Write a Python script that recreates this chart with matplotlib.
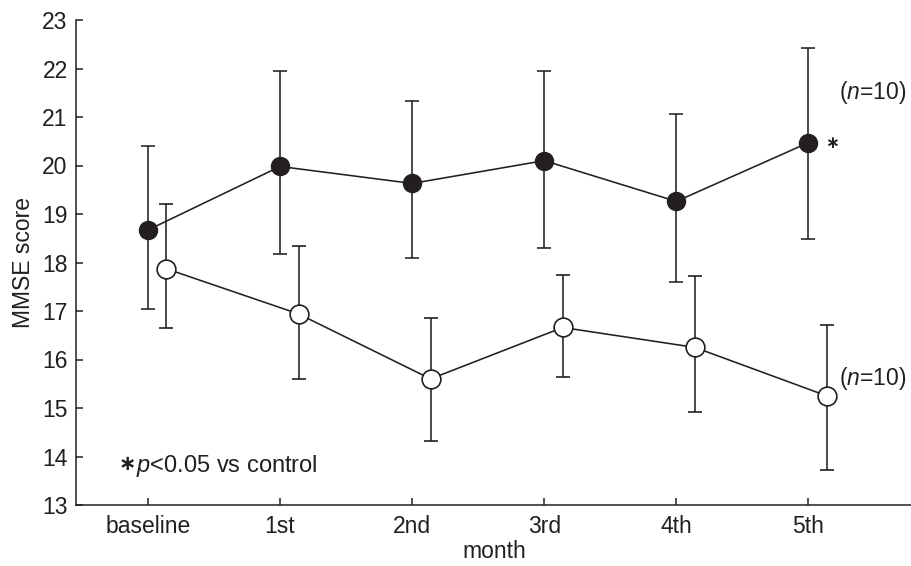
import numpy as np
import matplotlib
matplotlib.use('Agg')
import matplotlib.pyplot as plt

plt.rcParams['font.family'] = ['Liberation Sans', 'DejaVu Sans']
plt.rcParams['mathtext.fontset'] = 'custom'
plt.rcParams['mathtext.it'] = 'Liberation Sans:italic'
plt.rcParams['mathtext.rm'] = 'Liberation Sans'

months = ['baseline', '1st', '2nd', '3rd', '4th', '5th']

# treated group (filled circles)
treat_mean = [18.67, 19.98, 19.63, 20.10, 19.26, 20.47]
treat_upper = [20.41, 21.94, 21.33, 21.94, 21.07, 22.42]
treat_lower = [17.05, 18.18, 18.10, 18.30, 17.59, 18.49]

# control group (open circles)
ctrl_mean = [17.87, 16.94, 15.60, 16.66, 16.25, 15.25]
ctrl_upper = [19.21, 18.33, 16.86, 17.75, 17.72, 16.71]
ctrl_lower = [16.64, 15.59, 14.32, 15.64, 14.91, 13.72]

ink = '#231f20'

fig = plt.figure(figsize=(9.12, 5.66), dpi=100)
ax = fig.add_axes([76 / 912, 61 / 566, 836 / 912, 485 / 566])

x = np.arange(len(months))
shift = 0.14

t_err = [np.array(treat_mean) - np.array(treat_lower),
         np.array(treat_upper) - np.array(treat_mean)]
c_err = [np.array(ctrl_mean) - np.array(ctrl_lower),
         np.array(ctrl_upper) - np.array(ctrl_mean)]

ax.errorbar(x, treat_mean, yerr=t_err, fmt='-o', color=ink, lw=1.15,
            elinewidth=1.15, capsize=5, capthick=1.15, ms=13,
            mfc=ink, mec=ink, zorder=3)
ax.errorbar(x + shift, ctrl_mean, yerr=c_err, fmt='-o', color=ink, lw=1.15,
            elinewidth=1.15, capsize=5, capthick=1.15, ms=13.5,
            mfc='white', mec=ink, mew=1.2, zorder=3)

ax.set_xlim(-0.545, 5.785)
ax.set_ylim(13, 23)
ax.set_xticks(x)
ax.set_xticklabels(months)
ax.set_yticks(np.arange(13, 24, 1))

for s in ['top', 'right']:
    ax.spines[s].set_visible(False)
for s in ['left', 'bottom']:
    ax.spines[s].set_linewidth(1.1)
    ax.spines[s].set_color(ink)

ax.tick_params(axis='both', direction='in', length=5, width=1.1,
               colors=ink, labelsize=16.5)
ax.tick_params(axis='y', pad=6)
ax.tick_params(axis='x', pad=7)

ax.set_ylabel('MMSE score', fontsize=16.5, color=ink, labelpad=5)
ax.set_xlabel('month', fontsize=16.5, color=ink, labelpad=2)

# significance note
ax.annotate('\u2217', xy=(-0.22, 13.73), fontsize=15, color=ink,
            va='baseline', ha='left', family='DejaVu Sans', fontweight='bold')
ax.annotate('$\\mathit{p}$<0.05 vs control', xy=(-0.22, 13.68),
            xytext=(12, 0), textcoords='offset points', fontsize=17,
            color=ink, va='baseline', ha='left')

ax.text(5.13, 20.37, '\u2217', fontsize=12, color=ink, va='baseline',
        ha='left', family='DejaVu Sans', fontweight='bold')
ax.text(5.23, 21.5, '($\\mathit{n}$=10)', fontsize=16.5, color=ink,
        va='center', ha='left')
ax.text(5.23, 15.6, '($\\mathit{n}$=10)', fontsize=16.5, color=ink,
        va='center', ha='left')

fig.savefig('out.png', dpi=100)
